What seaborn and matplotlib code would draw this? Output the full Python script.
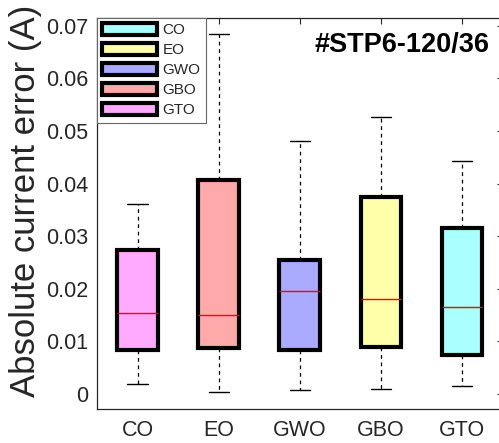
import numpy as np
import pandas as pd
import matplotlib
matplotlib.use("Agg")
import matplotlib.pyplot as plt
from matplotlib.patches import Patch
import seaborn as sns

# five-number summaries (A)
methods = ["CO", "EO", "GWO", "GBO", "GTO"]
lower_whisker = [0.0020, 0.0004, 0.0007, 0.0009, 0.0015]
q1 = [0.0083, 0.0087, 0.0083, 0.0090, 0.0074]
median = [0.0154, 0.0150, 0.0196, 0.0181, 0.0166]
q3 = [0.0273, 0.0407, 0.0255, 0.0375, 0.0316]
upper_whisker = [0.0361, 0.0684, 0.0481, 0.0526, 0.0444]

box_colors = ["#FFAAFF", "#FFAAAA", "#AAAAFF", "#FFFFAA", "#AAFFFF"]
# legend colours come out in reverse order in the original figure
legend_colors = box_colors[::-1]
yticks = [0, 0.01, 0.02, 0.03, 0.04, 0.05, 0.06, 0.07]
ytick_labels = ["0", "0.01", "0.02", "0.03", "0.04", "0.05", "0.06", "0.07"]

# long table: with 5 points per group the quartiles land exactly on the values
rows = []
for i, m in enumerate(methods):
    for v in (lower_whisker[i], q1[i], median[i], q3[i], upper_whisker[i]):
        rows.append({"method": m, "value": v})
df = pd.DataFrame(rows)

sns.set_style("white")
plt.rcParams["font.family"] = ["Liberation Sans", "DejaVu Sans"]

dark = "#262626"
fig = plt.figure(figsize=(4.99, 4.43), dpi=100)
ax = fig.add_axes([97 / 499, (443 - 409.3) / 443, (502.5 - 97) / 499, (409.3 - 18) / 443])

sns.boxplot(data=df, x="method", y="value", hue="method", order=methods,
            palette=box_colors, saturation=1, width=0.5, whis=(0, 100),
            linecolor="black", linewidth=3, fliersize=0, legend=False, ax=ax,
            whiskerprops=dict(linestyle=(0, (3, 3)), linewidth=0.9, color="black"),
            capprops=dict(linewidth=1, color="black"),
            medianprops=dict(color="red", linewidth=1))

ax.set_xlim(-0.5, 4.5)
ax.set_ylim(-0.0029, 0.0715)
ax.set_yticks(yticks)
ax.set_yticklabels(ytick_labels, fontsize=15.5, color=dark)
ax.set_xticks(range(len(methods)))
ax.set_xticklabels(methods, fontsize=15.5, color=dark)
ax.tick_params(direction="in", top=True, right=True, length=4, width=0.8,
               color=dark)
ax.tick_params(axis="y", pad=6)
ax.tick_params(axis="x", pad=8)
for s in ax.spines.values():
    s.set_visible(True)
    s.set_color(dark)
    s.set_linewidth(0.9)

ax.set_xlabel("")
ax.set_ylabel("Absolute current error (A)", fontsize=25, color=dark)
ax.yaxis.set_label_coords(-0.135, 0.532)

ax.text(0.969, 0.931, "#STP6-120/36", transform=ax.transAxes, ha="right",
        va="center", fontsize=19.5, fontweight="bold", color="black")

handles = [Patch(facecolor=c, edgecolor="black", linewidth=3) for c in legend_colors]
leg = ax.legend(handles, methods, loc="upper left", bbox_to_anchor=(0, 1),
                borderaxespad=0, fontsize=11, handlelength=3.6, handleheight=0.8,
                labelspacing=0.38, handletextpad=0.35, borderpad=0.35,
                fancybox=False, edgecolor="#666666", framealpha=1)
leg.get_frame().set_linewidth(0.8)

fig.savefig("out.png", dpi=100)
